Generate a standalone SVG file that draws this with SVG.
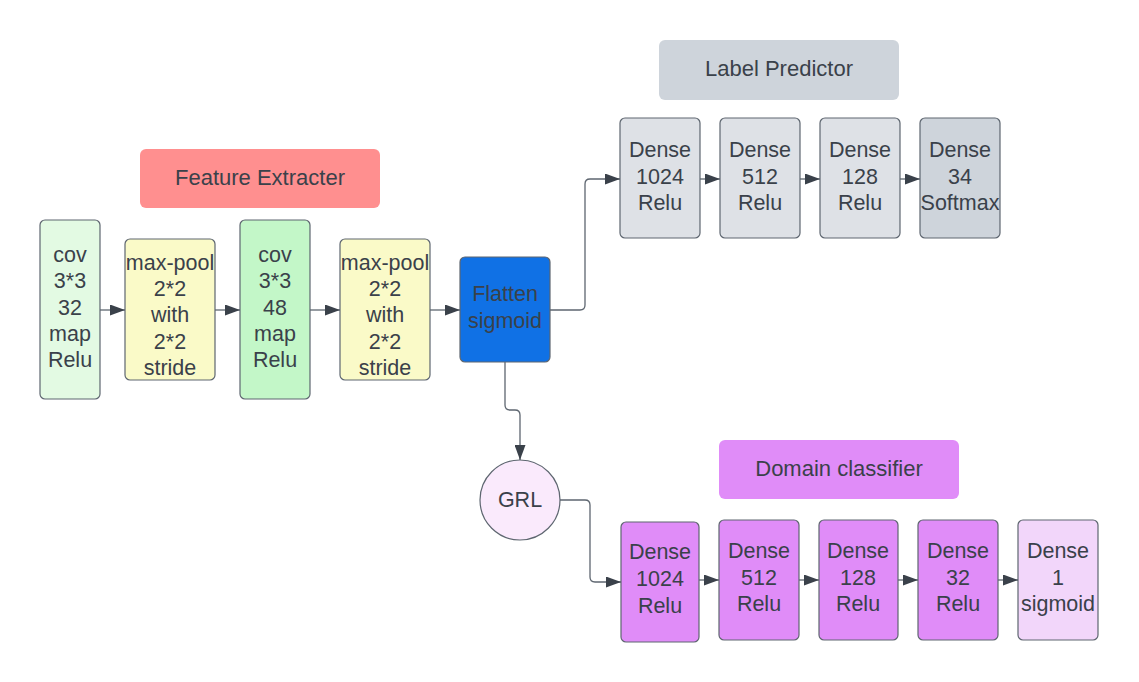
<svg xmlns="http://www.w3.org/2000/svg" width="1139" height="682" viewBox="0 0 1139 682">
<defs>
<marker id="ah" viewBox="0 0 15 11" refX="15" refY="5.5" markerWidth="15" markerHeight="11" markerUnits="userSpaceOnUse" orient="auto">
<path d="M0,0 L15,5.5 L0,11 Z" fill="#3a414a"/>
</marker>
<style>
text{font-family:"Liberation Sans",Arial,sans-serif;font-size:21.5px;fill:#3a414a;text-anchor:middle}
.h + text{font-size:22px}
.n{stroke:#5e6670;stroke-width:1.2}
.h{stroke:none}
.c{fill:none;stroke:#5e6670;stroke-width:1.3;marker-end:url(#ah)}
</style>
</defs>
<rect width="1139" height="682" fill="#ffffff"/>

<g id="hdr-feature"><rect class="h" x="140" y="149" width="240" height="59" rx="6" fill="#ff8f8f"/><text x="260" y="185">Feature Extracter</text></g>
<g id="hdr-label"><rect class="h" x="659" y="40" width="240" height="60" rx="6" fill="#ced4db"/><text x="779" y="76">Label Predictor</text></g>
<g id="hdr-domain"><rect class="h" x="719" y="440" width="240" height="59" rx="6" fill="#e08cf8"/><text x="839" y="476">Domain classifier</text></g>

<g id="cov1"><rect class="n" x="40" y="220" width="60" height="179" rx="5" fill="#e3fae3"/>
<text x="70" y="262">cov</text><text x="70" y="288">3*3</text><text x="70" y="315">32</text><text x="70" y="341">map</text><text x="70" y="367">Relu</text></g>
<g id="pool1"><rect class="n" x="125" y="239" width="90" height="141" rx="5" fill="#fafac8"/>
<text x="170" y="270">max-pool</text><text x="170" y="296">2*2</text><text x="170" y="322">with</text><text x="170" y="349">2*2</text><text x="170" y="375">stride</text></g>
<g id="cov2"><rect class="n" x="240" y="220" width="70" height="179" rx="5" fill="#c3f7c8"/>
<text x="275" y="262">cov</text><text x="275" y="288">3*3</text><text x="275" y="315">48</text><text x="275" y="341">map</text><text x="275" y="367">Relu</text></g>
<g id="pool2"><rect class="n" x="340" y="239" width="90" height="141" rx="5" fill="#fafac8"/>
<text x="385" y="270">max-pool</text><text x="385" y="296">2*2</text><text x="385" y="322">with</text><text x="385" y="349">2*2</text><text x="385" y="375">stride</text></g>
<g id="flatten"><rect class="n" x="460" y="257" width="90" height="105" rx="5" fill="#1071e5"/>
<text x="505" y="301">Flatten</text><text x="505" y="328">sigmoid</text></g>

<g id="lp1"><rect class="n" x="620" y="118" width="80" height="120" rx="5" fill="#dee1e6"/>
<text x="660" y="157">Dense</text><text x="660" y="184">1024</text><text x="660" y="210">Relu</text></g>
<g id="lp2"><rect class="n" x="720" y="118" width="80" height="120" rx="5" fill="#dee1e6"/>
<text x="760" y="157">Dense</text><text x="760" y="184">512</text><text x="760" y="210">Relu</text></g>
<g id="lp3"><rect class="n" x="820" y="118" width="80" height="120" rx="5" fill="#dee1e6"/>
<text x="860" y="157">Dense</text><text x="860" y="184">128</text><text x="860" y="210">Relu</text></g>
<g id="lp4"><rect class="n" x="920" y="118" width="80" height="120" rx="5" fill="#ced4db"/>
<text x="960" y="157">Dense</text><text x="960" y="184">34</text><text x="960" y="210">Softmax</text></g>

<g id="grl"><circle class="n" cx="520" cy="500" r="40" fill="#faeafc"/><text x="520" y="507">GRL</text></g>

<g id="dc1"><rect class="n" x="621" y="522" width="78" height="120" rx="5" fill="#e08cf8"/>
<text x="660" y="559">Dense</text><text x="660" y="586">1024</text><text x="660" y="613">Relu</text></g>
<g id="dc2"><rect class="n" x="719" y="520" width="80" height="120" rx="5" fill="#e08cf8"/>
<text x="759" y="558">Dense</text><text x="759" y="585">512</text><text x="759" y="611">Relu</text></g>
<g id="dc3"><rect class="n" x="819" y="520" width="79" height="120" rx="5" fill="#e08cf8"/>
<text x="858" y="558">Dense</text><text x="858" y="585">128</text><text x="858" y="611">Relu</text></g>
<g id="dc4"><rect class="n" x="918" y="520" width="80" height="120" rx="5" fill="#e08cf8"/>
<text x="958" y="558">Dense</text><text x="958" y="585">32</text><text x="958" y="611">Relu</text></g>
<g id="dc5"><rect class="n" x="1018" y="520" width="80" height="120" rx="5" fill="#f2d6fa"/>
<text x="1058" y="558">Dense</text><text x="1058" y="585">1</text><text x="1058" y="611">sigmoid</text></g>

<g id="connectors">
<path class="c" d="M100,310 H125"/>
<path class="c" d="M215,310 H240"/>
<path class="c" d="M310,310 H340"/>
<path class="c" d="M430,310 H460"/>
<path class="c" d="M550,310 H580 Q585,310 585,305 V184 Q585,179 590,179 H620"/>
<path class="c" d="M700,179 H720"/>
<path class="c" d="M800,179 H820"/>
<path class="c" d="M900,179 H920"/>
<path class="c" d="M505,362 V405 Q505,410 510,410 H515 Q520,410 520,415 V460"/>
<path class="c" d="M560,500 H585 Q590,500 590,505 V577 Q590,582 595,582 H621"/>
<path class="c" d="M699,580 H719"/>
<path class="c" d="M799,580 H819"/>
<path class="c" d="M898,580 H918"/>
<path class="c" d="M998,580 H1018"/>
</g>
</svg>
